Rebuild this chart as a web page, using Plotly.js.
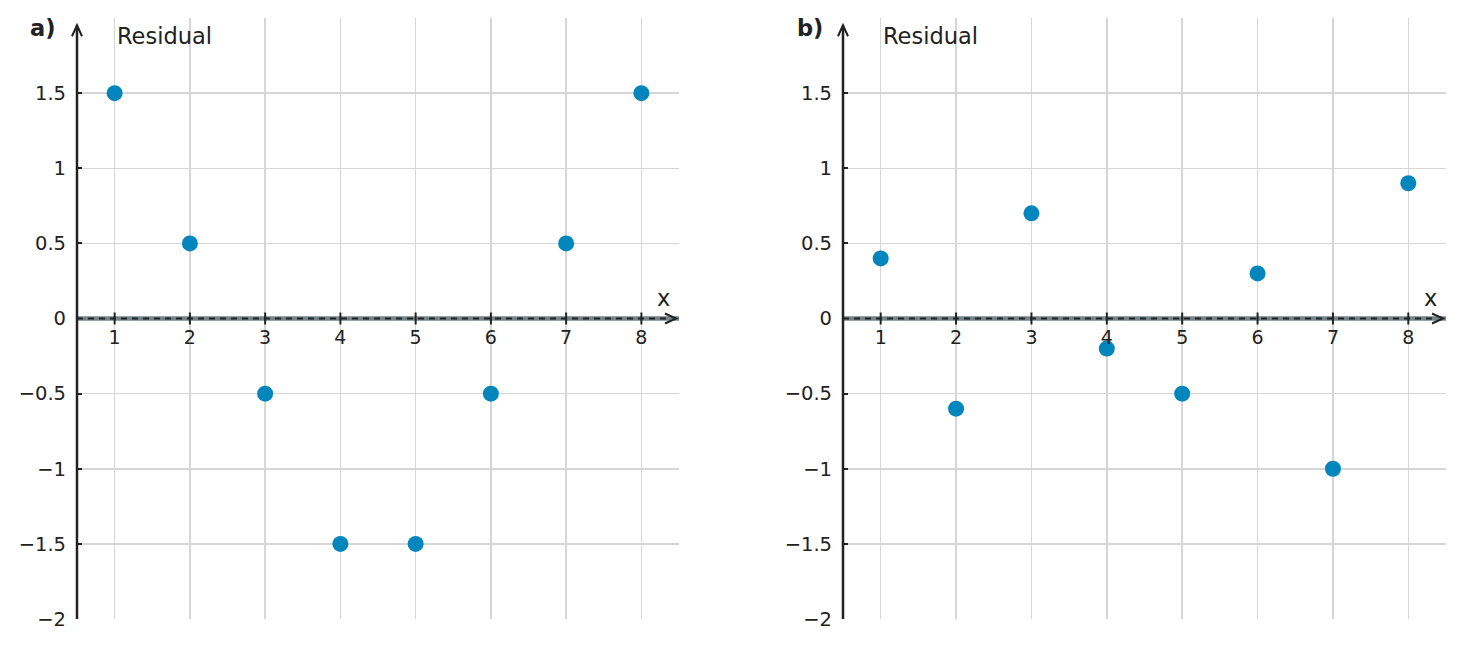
<!DOCTYPE html>
<html><head><meta charset="utf-8">
<script src="https://cdn.plot.ly/plotly-3.0.1.min.js"></script>
<style>html,body{margin:0;padding:0;background:#fff}</style>
</head><body>
<div id="chart" style="width:1463px;height:648px"></div>
<script>
const xValues = [1, 2, 3, 4, 5, 6, 7, 8];
const residualA = [1.5, 0.5, -0.5, -1.5, -1.5, -0.5, 0.5, 1.5];
const residualB = [0.4, -0.6, 0.7, -0.2, -0.5, 0.3, -1, 0.9];
const yTicks = [-2, -1.5, -1, -0.5, 0, 0.5, 1, 1.5];
const panelLabels = ['a)', 'b)'];
const yLabel = 'Residual';
const xLabel = 'x';

const W = 1463, H = 648;
const px = v => v / W, py = v => 1 - v / H;
const dark = '#222222';
const gridC = '#d6d6d6';
const markerC = '#0086bd';
const font = 'DejaVu Sans, sans-serif';

const domA = [px(77), px(679)];
const domB = [px(843), px(1446)];
const domY = [py(619), py(18)];
const zeroPos = domY[0] + 0.5 * (domY[1] - domY[0]);

function xax(dom) {
  return {
    domain: dom, range: [0.5, 8.5], anchor: 'free', position: zeroPos,
    tickvals: xValues, ticks: '', ticklabelstandoff: 5,
    showgrid: true, gridcolor: gridC, gridwidth: 1.5, zeroline: false, showline: false,
    tickfont: {family: font, size: 19, color: dark}, fixedrange: true
  };
}
function yax(anchor) {
  return {
    domain: domY, range: [-2, 2], anchor: anchor, tickvals: yTicks,
    ticks: 'inside', ticklen: 5, tickwidth: 2, tickcolor: dark, ticklabelstandoff: 10,
    showgrid: true, gridcolor: gridC, gridwidth: 1.5, zeroline: false, showline: false,
    tickfont: {family: font, size: 19.5, color: dark}, fixedrange: true
  };
}

const data = [
  {x: xValues, y: residualA, xaxis: 'x', yaxis: 'y', type: 'scatter', mode: 'markers',
   marker: {color: markerC, size: 16}, showlegend: false, hoverinfo: 'skip'},
  {x: xValues, y: residualB, xaxis: 'x2', yaxis: 'y2', type: 'scatter', mode: 'markers',
   marker: {color: markerC, size: 16}, showlegend: false, hoverinfo: 'skip'}
];

function axisShapes(xr, yr) {
  const xd = xr + ' domain', yd = yr + ' domain';
  const s = [
    {type: 'line', xref: xd, yref: yr, x0: 0, x1: 1, y0: 0, y1: 0,
     line: {color: '#75848a', width: 4.5}},
    {type: 'line', xref: xd, yref: yr, x0: 0, x1: 0.985, y0: 0, y1: 0,
     line: {color: dark, width: 1.8, dash: '6px,5px'}},
    {type: 'path', xref: xd, yref: yr, xsizemode: 'pixel', ysizemode: 'pixel',
     xanchor: 0.995, yanchor: 0, path: 'M -11,5 L 0,0 L -11,-5',
     line: {color: dark, width: 2}},
    {type: 'line', xref: xd, yref: yd, x0: 0, x1: 0, y0: 0, y1: 0.988,
     line: {color: dark, width: 2.5}},
    {type: 'path', xref: xd, yref: yd, xsizemode: 'pixel', ysizemode: 'pixel',
     xanchor: 0, yanchor: 0.988, path: 'M -5,-11 L 0,0 L 5,-11',
     line: {color: dark, width: 2}}
  ];
  xValues.forEach(v => s.push({type: 'line', xref: xr, yref: yr, ysizemode: 'pixel', yanchor: 0,
    x0: v, x1: v, y0: -6, y1: 6, line: {color: dark, width: 2}}));
  return s;
}

function labels(i, left, axisX, xlabX) {
  return [
    {text: '<b>' + panelLabels[i] + '</b>', xref: 'paper', yref: 'paper', x: px(left), y: py(28),
     xanchor: 'left', yanchor: 'middle', showarrow: false, font: {family: font, size: 22.5, color: dark}},
    {text: yLabel, xref: 'paper', yref: 'paper', x: px(axisX), y: py(36),
     xanchor: 'left', yanchor: 'middle', showarrow: false, font: {family: font, size: 22.5, color: dark}},
    {text: xLabel, xref: 'paper', yref: 'paper', x: px(xlabX), y: py(298),
     xanchor: 'center', yanchor: 'middle', showarrow: false, font: {family: font, size: 22.5, color: dark}}
  ];
}

const layout = {
  width: W, height: H, margin: {l: 0, r: 0, t: 0, b: 0},
  paper_bgcolor: '#fff', plot_bgcolor: '#fff', showlegend: false,
  font: {family: font, color: dark},
  xaxis: xax(domA), yaxis: yax('x'),
  xaxis2: xax(domB), yaxis2: yax('x2'),
  shapes: axisShapes('x', 'y').concat(axisShapes('x2', 'y2')),
  annotations: labels(0, 28, 115, 663).concat(labels(1, 795, 881, 1430))
};

Plotly.newPlot('chart', data, layout, {staticPlot: true, displayModeBar: false});
</script>
</body></html>
